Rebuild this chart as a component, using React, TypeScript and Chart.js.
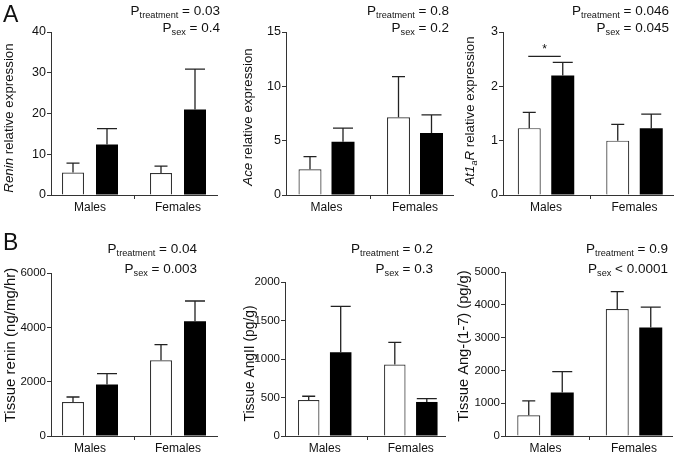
import React, { useEffect, useRef } from 'react';
import { Chart, registerables } from 'chart.js';
Chart.register(...registerables);

const FONT = "'Liberation Sans', Arial, Helvetica, sans-serif";
Chart.defaults.font.family = FONT;

// ---------- data ----------
const CATEGORIES = ['Males', 'Females'];

// A: relative expression
const reninControl = [5.5, 5.4];
const reninControlErr = [2.3, 1.7];
const reninTreated = [12.4, 21.0];
const reninTreatedErr = [3.9, 9.9];
const reninTicks = [0, 10, 20, 30, 40];
const reninP = ['= 0.03', '= 0.4'];

const aceControl = [2.37, 7.16];
const aceControlErr = [1.16, 3.74];
const aceTreated = [4.9, 5.7];
const aceTreatedErr = [1.25, 1.67];
const aceTicks = [0, 5, 10, 15];
const aceP = ['= 0.8', '= 0.2'];

const at1aControl = [1.23, 1.0];
const at1aControlErr = [0.29, 0.3];
const at1aTreated = [2.2, 1.23];
const at1aTreatedErr = [0.24, 0.26];
const at1aTicks = [0, 1, 2, 3];
const at1aP = ['= 0.046', '= 0.045'];
const at1aSigLevel = 2.55;

// B: tissue content
const tReninControl = [1251, 2786];
const tReninControlErr = [184, 578];
const tReninTreated = [1892, 4222];
const tReninTreatedErr = [405, 747];
const tReninTicks = [0, 2000, 4000, 6000];
const tReninP = ['= 0.04', '= 0.003'];

const angIIControl = [468, 927];
const angIIControlErr = [48, 290];
const angIITreated = [1087, 442];
const angIITreatedErr = [597, 44];
const angIITicks = [0, 500, 1000, 1500, 2000];
const angIIP = ['= 0.2', '= 0.3'];

const ang17Control = [634, 3870];
const ang17ControlErr = [438, 530];
const ang17Treated = [1329, 3307];
const ang17TreatedErr = [631, 624];
const ang17Ticks = [0, 1000, 2000, 3000, 4000, 5000];
const ang17P = ['= 0.9', '< 0.0001'];

// ---------- layout ----------
type Seg = { t: string; it?: boolean; sub?: boolean };
type Panel = {
  rect: [number, number, number, number];
  plot: [number, number, number, number];
  groupX: [number, number];
  chunk: number;
  barW: number;
  control: number[];
  controlErr: number[];
  treated: number[];
  treatedErr: number[];
  ticks: number[];
  tickFont: number;
  title: Seg[];
  titleFont: number;
  titleBase: number;
  titleMid: number;
  p: string[];
  pRight: number;
  pBase: [number, number];
  letter?: { t: string; x: number; y: number };
  sig?: { value: number; starBase: number };
};

const PANELS: Panel[] = [
  {
    rect: [0, 0, 232, 225], plot: [51, 32, 217, 195], groupX: [90, 178], chunk: 34, barW: 22,
    control: reninControl, controlErr: reninControlErr, treated: reninTreated, treatedErr: reninTreatedErr,
    ticks: reninTicks, tickFont: 12.5,
    title: [{ t: 'Renin', it: true }, { t: ' relative expression' }], titleFont: 13.3, titleBase: 12.5, titleMid: 118,
    p: reninP, pRight: 220, pBase: [15, 32], letter: { t: 'A', x: 3, y: 22 },
  },
  {
    rect: [232, 0, 224, 225], plot: [286, 32, 453, 195], groupX: [326.5, 415], chunk: 33, barW: 23,
    control: aceControl, controlErr: aceControlErr, treated: aceTreated, treatedErr: aceTreatedErr,
    ticks: aceTicks, tickFont: 12.5,
    title: [{ t: 'Ace', it: true }, { t: ' relative expression' }], titleFont: 13.3, titleBase: 252, titleMid: 117,
    p: aceP, pRight: 449, pBase: [15, 32],
  },
  {
    rect: [456, 0, 219, 225], plot: [503, 32, 673, 195], groupX: [546, 634.5], chunk: 33.5, barW: 23,
    control: at1aControl, controlErr: at1aControlErr, treated: at1aTreated, treatedErr: at1aTreatedErr,
    ticks: at1aTicks, tickFont: 12.5,
    title: [{ t: 'At1', it: true }, { t: 'a', it: true, sub: true }, { t: 'R', it: true }, { t: ' relative expression' }],
    titleFont: 13.3, titleBase: 473.5, titleMid: 111,
    p: at1aP, pRight: 669, pBase: [15, 32], sig: { value: at1aSigLevel, starBase: 53 },
  },
  {
    rect: [0, 225, 232, 229], plot: [51, 273, 217, 436], groupX: [90, 178], chunk: 34, barW: 22,
    control: tReninControl, controlErr: tReninControlErr, treated: tReninTreated, treatedErr: tReninTreatedErr,
    ticks: tReninTicks, tickFont: 11.5,
    title: [{ t: 'Tissue renin (ng/mg/hr)' }], titleFont: 15, titleBase: 14.5, titleMid: 345,
    p: tReninP, pRight: 197, pBase: [253, 272.5], letter: { t: 'B', x: 3, y: 250 },
  },
  {
    rect: [232, 225, 224, 229], plot: [285, 282, 445, 436], groupX: [324.7, 410.8], chunk: 32, barW: 21.5,
    control: angIIControl, controlErr: angIIControlErr, treated: angIITreated, treatedErr: angIITreatedErr,
    ticks: angIITicks, tickFont: 11.5,
    title: [{ t: 'Tissue AngII (pg/g)' }], titleFont: 13.8, titleBase: 253.5, titleMid: 363.5,
    p: angIIP, pRight: 433, pBase: [253, 272.5],
  },
  {
    rect: [456, 225, 219, 229], plot: [505, 272, 672, 436], groupX: [545.5, 634], chunk: 33.5, barW: 23,
    control: ang17Control, controlErr: ang17ControlErr, treated: ang17Treated, treatedErr: ang17TreatedErr,
    ticks: ang17Ticks, tickFont: 11.5,
    title: [{ t: 'Tissue Ang-(1-7) (pg/g)' }], titleFont: 14.7, titleBase: 468, titleMid: 346,
    p: ang17P, pRight: 668, pBase: [253, 272.5],
  },
];

const INK = '#222';
const AXIS = '#333';

function fnt(size: number, italic = false) {
  return `${italic ? 'italic ' : ''}${size}px ${FONT}`;
}
const SUB_RATIO = 0.68;
function segsWidth(ctx: CanvasRenderingContext2D, segs: Seg[], size: number) {
  let w = 0;
  for (const s of segs) {
    ctx.font = fnt(s.sub ? size * SUB_RATIO : size, s.it);
    w += ctx.measureText(s.t).width;
  }
  return w;
}
function drawSegs(ctx: CanvasRenderingContext2D, segs: Seg[], size: number, x0: number, base: number, subDrop: number) {
  let x = x0;
  for (const s of segs) {
    ctx.font = fnt(s.sub ? size * SUB_RATIO : size, s.it);
    ctx.fillText(s.t, x, base + (s.sub ? subDrop : 0));
    x += ctx.measureText(s.t).width;
  }
}

function makeChart(canvas: HTMLCanvasElement, p: Panel) {
  const [cx, cy, cw, ch] = p.rect;
  const [pl, pt, pr, pb] = p.plot;
  const [gm, gf] = p.groupX;
  const spacing = gf - gm;
  const xMin = 1 - (gm - pl) / spacing;
  const xMax = 2 + (pr - gf) / spacing;
  const yMax = p.ticks[p.ticks.length - 1];
  const XH = 16;
  const yW = pl - cx;
  const catPct = (2 * p.chunk) / spacing;
  const barPct = p.barW / p.chunk;
  const pts = (vals: number[]) => vals.map((v, i) => ({ x: i + 1, y: v }));

  const errPlugin = {
    id: 'errbars',
    afterDatasetsDraw(chart: any) {
      const ctx: CanvasRenderingContext2D = chart.ctx;
      const ys = chart.scales.y;
      ctx.save();
      ctx.strokeStyle = INK;
      ctx.lineWidth = 1.3;
      chart.data.datasets.forEach((ds: any, di: number) => {
        const meta = chart.getDatasetMeta(di);
        meta.data.forEach((bar: any, i: number) => {
          const v = ds.data[i].y;
          const top = ys.getPixelForValue(v + ds.errors[i]);
          const half = ds.capW / 2;
          ctx.beginPath();
          ctx.moveTo(bar.x, bar.y);
          ctx.lineTo(bar.x, top);
          ctx.moveTo(bar.x - half, top);
          ctx.lineTo(bar.x + half, top);
          ctx.stroke();
        });
      });
      ctx.restore();
    },
  };

  const textPlugin = {
    id: 'texts',
    afterDraw(chart: any) {
      const ctx: CanvasRenderingContext2D = chart.ctx;
      ctx.save();
      ctx.fillStyle = '#111';
      ctx.textAlign = 'left';
      ctx.textBaseline = 'alphabetic';
      // y title (rotated)
      ctx.save();
      ctx.translate(p.titleBase - cx, p.titleMid - cy);
      ctx.rotate(-Math.PI / 2);
      const tw = segsWidth(ctx, p.title, p.titleFont);
      drawSegs(ctx, p.title, p.titleFont, -tw / 2, 0, 3);
      ctx.restore();
      // P values
      const lines: Seg[][] = [
        [{ t: 'P' }, { t: 'treatment', sub: true }, { t: ' ' + p.p[0] }],
        [{ t: 'P' }, { t: 'sex', sub: true }, { t: ' ' + p.p[1] }],
      ];
      lines.forEach((segs, li) => {
        const size = 13.5;
        const w = segsWidth(ctx, segs, size);
        drawSegs(ctx, segs, size, p.pRight - cx - w, p.pBase[li] - cy, 3);
      });
      // panel letter
      if (p.letter) {
        ctx.font = fnt(23);
        ctx.fillText(p.letter.t, p.letter.x - cx, p.letter.y - cy);
      }
      // significance marker
      if (p.sig) {
        const m0 = chart.getDatasetMeta(0).data[0];
        const m1 = chart.getDatasetMeta(1).data[0];
        const ly = chart.scales.y.getPixelForValue(p.sig.value);
        ctx.strokeStyle = INK;
        ctx.lineWidth = 1.2;
        ctx.beginPath();
        ctx.moveTo(m0.x - 1, ly);
        ctx.lineTo(m1.x - 2, ly);
        ctx.stroke();
        ctx.font = fnt(12);
        ctx.textAlign = 'center';
        ctx.fillText('*', (m0.x + m1.x) / 2 - 1.5, p.sig.starBase - cy);
      }
      ctx.restore();
    },
  };

  return new Chart(canvas, {
    type: 'bar',
    data: {
      datasets: [
        {
          label: 'Control',
          data: pts(p.control),
          errors: p.controlErr,
          capW: 13,
          backgroundColor: '#ffffff',
          borderColor: AXIS,
          borderWidth: 1.2,
          categoryPercentage: catPct,
          barPercentage: barPct,
        } as any,
        {
          label: 'Treated',
          data: pts(p.treated),
          errors: p.treatedErr,
          capW: 20,
          backgroundColor: '#000000',
          borderColor: '#000000',
          borderWidth: 0,
          categoryPercentage: catPct,
          barPercentage: barPct,
        } as any,
      ],
    },
    options: {
      responsive: false,
      animation: false,
      devicePixelRatio: 1,
      layout: { padding: { left: 0, top: pt - cy, right: cx + cw - pr, bottom: cy + ch - pb - XH } },
      plugins: { legend: { display: false }, tooltip: { enabled: false }, title: { display: false } },
      scales: {
        x: {
          type: 'linear',
          min: xMin,
          max: xMax,
          offset: false,
          afterBuildTicks: (s: any) => { s.ticks = [{ value: 1 }, { value: 2 }]; },
          afterFit: (s: any) => { s.height = XH; },
          ticks: {
            callback: (v: any) => CATEGORIES[Math.round(Number(v)) - 1] ?? '',
            font: { size: 12 },
            color: '#111',
            padding: 1,
            maxRotation: 0,
            autoSkip: false,
          },
          grid: { display: true, drawOnChartArea: false, drawTicks: true, tickLength: 4, color: AXIS, lineWidth: 1 },
          border: { display: true, color: AXIS, width: 1 },
        },
        y: {
          type: 'linear',
          min: 0,
          max: yMax,
          afterBuildTicks: (s: any) => { s.ticks = p.ticks.map((v) => ({ value: v })); },
          afterFit: (s: any) => { s.width = yW; },
          ticks: {
            callback: (v: any) => String(v),
            font: { size: p.tickFont },
            color: '#111',
            padding: 1,
          },
          grid: { display: true, drawOnChartArea: false, drawTicks: true, tickLength: 4, color: AXIS, lineWidth: 1 },
          border: { display: true, color: AXIS, width: 1 },
        },
      },
    } as any,
    plugins: [errPlugin, textPlugin],
  });
}

function PanelChart({ p }: { p: Panel }) {
  const ref = useRef<HTMLCanvasElement>(null);
  useEffect(() => {
    if (!ref.current) return;
    const c = makeChart(ref.current, p);
    return () => c.destroy();
  }, [p]);
  const [cx, cy, cw, ch] = p.rect;
  return (
    <canvas
      ref={ref}
      width={cw}
      height={ch}
      style={{ position: 'absolute', left: cx, top: cy, width: cw, height: ch }}
    />
  );
}

export default function App() {
  return (
    <div style={{ position: 'absolute', left: 0, top: 0, width: 675, height: 454, background: '#fff', overflow: 'hidden' }}>
      {PANELS.map((p, i) => (
        <PanelChart key={i} p={p} />
      ))}
    </div>
  );
}
